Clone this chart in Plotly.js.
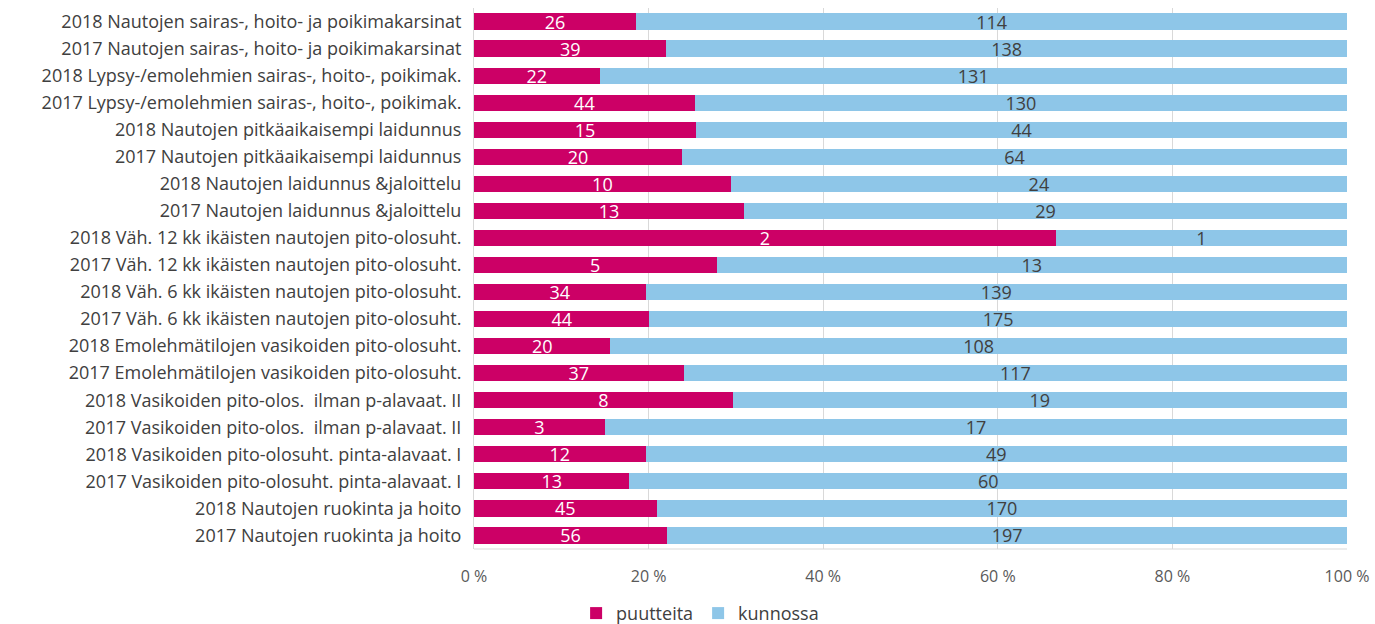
<!DOCTYPE html>
<html><head><meta charset="utf-8">
<script src="https://cdn.plot.ly/plotly-3.0.1.min.js"></script>
<style>body{margin:0;background:#fff}#chart{width:1375px;height:624px}</style>
</head><body><div id="chart"></div>
<script>
const categories = [
"2018 Nautojen sairas-, hoito- ja poikimakarsinat",
"2017 Nautojen sairas-, hoito- ja poikimakarsinat",
"2018 Lypsy-/emolehmien sairas-, hoito-, poikimak.",
"2017 Lypsy-/emolehmien sairas-, hoito-, poikimak.",
"2018 Nautojen pitkäaikaisempi laidunnus",
"2017 Nautojen pitkäaikaisempi laidunnus",
"2018 Nautojen laidunnus &jaloittelu",
"2017 Nautojen laidunnus &jaloittelu",
"2018 Väh. 12 kk ikäisten nautojen pito-olosuht.",
"2017 Väh. 12 kk ikäisten nautojen pito-olosuht.",
"2018 Väh. 6 kk ikäisten nautojen pito-olosuht.",
"2017 Väh. 6 kk ikäisten nautojen pito-olosuht.",
"2018 Emolehmätilojen vasikoiden pito-olosuht.",
"2017 Emolehmätilojen vasikoiden pito-olosuht.",
"2018 Vasikoiden pito-olos.  ilman p-alavaat. II",
"2017 Vasikoiden pito-olos.  ilman p-alavaat. II",
"2018 Vasikoiden pito-olosuht. pinta-alavaat. I",
"2017 Vasikoiden pito-olosuht. pinta-alavaat. I",
"2018 Nautojen ruokinta ja hoito",
"2017 Nautojen ruokinta ja hoito"
];
const puutteita = [26,39,22,44,15,20,10,13,2,5,34,44,20,37,8,3,12,13,45,56];
const kunnossa  = [114,138,131,130,44,64,24,29,1,13,139,175,108,117,19,17,49,60,170,197];
const tickVals = [0,20,40,60,80,100];
const tickText = ["0 %","20 %","40 %","60 %","80 %","100 %"];

const font = "'Open Sans', 'Liberation Sans', sans-serif";
const traces = [
 {type:'bar', orientation:'h', name:'puutteita', y:categories, x:puutteita,
  marker:{color:'#CC0066'}, text:puutteita.map(String), textposition:'inside',
  insidetextanchor:'middle', constraintext:'none', textangle:0,
  insidetextfont:{color:'#ffffff', size:18, family:font}, hoverinfo:'x+y'},
 {type:'bar', orientation:'h', name:'kunnossa', y:categories, x:kunnossa,
  marker:{color:'#8EC6E8'}, text:kunnossa.map(String), textposition:'inside',
  insidetextanchor:'middle', constraintext:'none', textangle:0,
  insidetextfont:{color:'#404040', size:18, family:font}, hoverinfo:'x+y'}
];
const layout = {
 width:1375, height:624, barmode:'stack', barnorm:'percent', bargap:0.4,
 margin:{l:474, r:28, t:8, b:75, autoexpand:false},
 paper_bgcolor:'#fff', plot_bgcolor:'#fff',
 font:{family:font, color:'#595959', size:14},
 xaxis:{range:[0,100], tickvals:tickVals, ticktext:tickText, showgrid:true,
   gridcolor:'#d9d9d9', gridwidth:1, zeroline:false, showline:false,
   ticks:'', tickfont:{size:16, color:'#595959'}, ticklabelstandoff:16, fixedrange:true},
 yaxis:{type:'category', autorange:'reversed', showgrid:false, ticks:'',
   showline:true, linecolor:'#d9d9d9', ticklabelstandoff:8,
   tickfont:{size:18, color:'#404040'}},
 showlegend:true,
 legend:{orientation:'h', x:0.259, xanchor:'center', yref:'container', y:0.017, yanchor:'middle',
   font:{size:18, color:'#404040'}, traceorder:'normal', itemwidth:30},
 shapes:[{type:'line', xref:'paper', yref:'paper', x0:0, x1:1, y0:0, y1:0,
   line:{color:'#d9d9d9', width:1}}]
};
Plotly.newPlot('chart', traces, layout, {displayModeBar:false, staticPlot:true});
</script>
</body></html>
